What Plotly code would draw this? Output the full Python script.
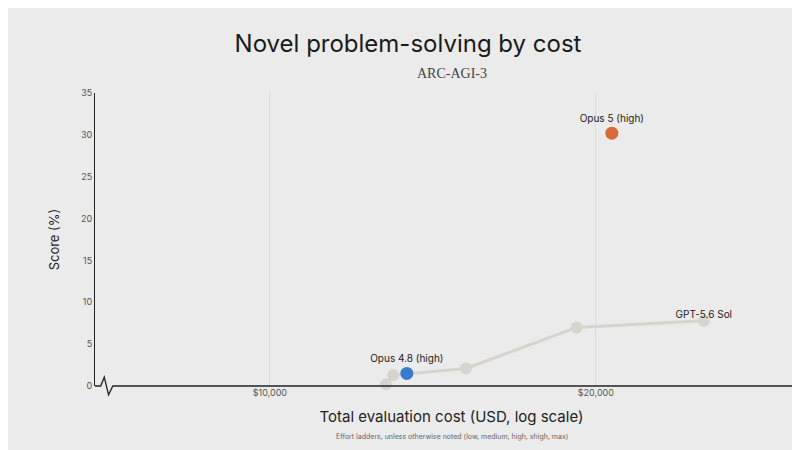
import plotly.graph_objects as go

# GPT-5.6 Sol effort ladder
sol_cost = [12800, 13000, 15170, 19200, 25160]
sol_score = [0.2, 1.3, 2.1, 7.0, 7.8]

opus48_cost = [13380]
opus48_score = [1.5]

opus5_cost = [20690]
opus5_score = [30.2]

x_ticks = [10000, 20000]
x_labels = ['$10,000', '$20,000']
y_ticks = [0, 5, 10, 15, 20, 25, 30, 35]

bg = '#ebebeb'

fig = go.Figure()

fig.add_trace(go.Scatter(
    x=sol_cost, y=sol_score, mode='lines+markers',
    line=dict(color='#d6d4cc', width=3),
    marker=dict(color='#d6d4cc', size=12),
    hoverinfo='skip', cliponaxis=False
))
fig.add_trace(go.Scatter(
    x=sol_cost[-1:], y=sol_score[-1:], mode='text',
    text=['GPT-5.6 Sol'], textposition='top center',
    textfont=dict(size=10, color='#222'), cliponaxis=False
))
fig.add_trace(go.Scatter(
    x=opus48_cost, y=opus48_score, mode='markers+text',
    marker=dict(color='#3a7bd0', size=13),
    text=['Opus 4.8 (high)'], textposition='top center',
    textfont=dict(size=10, color='#222'), cliponaxis=False
))
fig.add_trace(go.Scatter(
    x=opus5_cost, y=opus5_score, mode='markers+text',
    marker=dict(color='#d9683a', size=13),
    text=['Opus 5 (high)'], textposition='top center',
    textfont=dict(size=10, color='#222'), cliponaxis=False
))

# axis break zigzag
fig.add_shape(type='path', xref='paper', yref='paper',
              path='M 0,0 L 0.008,0 L 0.013,0.03 L 0.019,-0.03 L 0.025,0 L 0.035,0',
              line=dict(color='#222', width=1.3), fillcolor='rgba(0,0,0,0)')

fig.update_layout(
    width=800, height=450,
    paper_bgcolor=bg, plot_bgcolor=bg,
    margin=dict(l=87, r=0, t=85, b=72),
    showlegend=False,
    font=dict(family='Inter, Noto Sans, sans-serif', color='#222'),
    title=dict(text='Novel problem-solving by cost', x=0.5, xanchor='center',
               yref='container', y=0.922, yanchor='middle',
               font=dict(size=24, color='#1a1a1a')),
    xaxis=dict(type='log', range=[3.8385, 4.4969],
               tickvals=x_ticks, ticktext=x_labels,
               tickfont=dict(size=9, color='#555'),
               showgrid=True, gridcolor='#dcdcdc', gridwidth=1,
               zeroline=False, showline=False, ticks='',
               title=dict(text='Total evaluation cost (USD, log scale)',
                          font=dict(size=15, color='#222'), standoff=14)),
    yaxis=dict(range=[0, 35], tickvals=y_ticks,
               tickfont=dict(size=9, color='#555'),
               showgrid=False, zeroline=False, showline=True,
               linecolor='#222', linewidth=1, ticks='',
               title=dict(text='Score (%)', font=dict(size=13, color='#222'), standoff=18)),
)

# x axis baseline after the break
fig.add_shape(type='line', xref='paper', yref='paper', x0=0.035, x1=1, y0=0, y1=0,
              line=dict(color='#222', width=1.5))

fig.add_annotation(text='ARC-AGI-3', xref='paper', yref='paper', x=0.5, y=1.068,
                   showarrow=False, yanchor='middle',
                   font=dict(family='Liberation Serif, serif', size=14, color='#444'))
fig.add_annotation(text='Effort ladders, unless otherwise noted (low, medium, high, xhigh, max)',
                   xref='paper', yref='paper', x=0.5, y=-0.195, showarrow=False,
                   font=dict(size=7, color='#666'))

fig.write_html("out.html")
